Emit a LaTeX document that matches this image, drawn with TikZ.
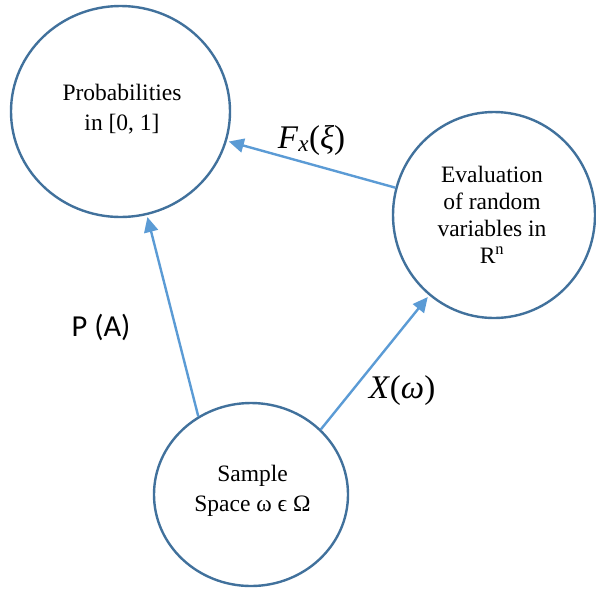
\documentclass[tikz,border=0pt]{standalone}
\usepackage{fontspec}
\setmainfont{Liberation Serif}
\newfontfamily\calibri{Carlito}
\usetikzlibrary{shapes.geometric,arrows.meta}
\definecolor{circ}{HTML}{41719C}
\definecolor{arr}{HTML}{5B9BD5}
\begin{document}
\begin{tikzpicture}[x=1pt,y=-1pt,
  bubble/.style={ellipse,draw=circ,line width=2.4pt,inner sep=0pt},
  link/.style={draw=arr,line width=2.4pt,shorten >=2pt,-{Triangle[length=15pt,width=14pt]}},
  txt/.style={align=center,inner sep=0pt},
  lbl/.style={inner sep=0pt,font=\fontsize{33}{33}\selectfont}
]
\useasboundingbox (0,0) rectangle (596,590);
\node[bubble,minimum width=219pt,minimum height=211pt] (p) at (120.5,111.5) {};
\node[bubble,minimum width=202pt,minimum height=206pt] (e) at (494,215) {};
\node[bubble,minimum width=194pt,minimum height=183pt] (s) at (251,494.5) {};
\node[txt,font=\fontsize{23.5}{30}\selectfont] (pt) at (122,109) {Probabilities\\in [0, 1]};
\node[txt,font=\fontsize{23.5}{27}\selectfont] (et) at (492,215) {Evaluation\\of random\\variables in\\R\textsuperscript{n}};
\node[txt,font=\fontsize{23.5}{29.5}\selectfont] (st) at (252.5,491) {Sample\\Space ω ϵ Ω};
\draw[link] (e) -- (p);
\draw[link] (s.124) -- (p);
\draw[link] (s.43) -- (e);
\node[lbl] (fl) at (311.5,140) {\textit{F}\textsubscript{\textit{x}}(\textit{ξ})};
\node[lbl] (xl) at (402,391) {\textit{X}(\textit{ω})};
\node[inner sep=0pt,font=\calibri\fontsize{30.5}{30.5}\selectfont] (pl) at (101,327) {P (A)};
\end{tikzpicture}
\end{document}
